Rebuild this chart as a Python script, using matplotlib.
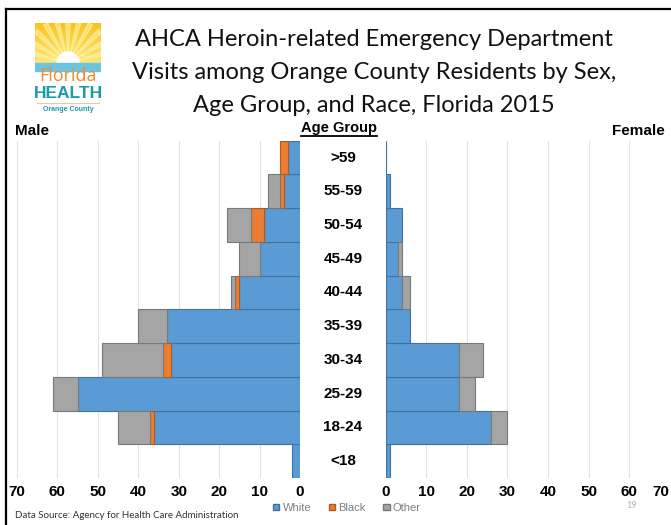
import numpy as np
import matplotlib
matplotlib.use('Agg')
import matplotlib.pyplot as plt
from matplotlib.patches import Rectangle, Wedge, Patch
from matplotlib.lines import Line2D
from matplotlib.transforms import blended_transform_factory

plt.rcParams['font.family'] = ['Liberation Sans', 'DejaVu Sans']

ages = ['<18', '18-24', '25-29', '30-34', '35-39', '40-44',
        '45-49', '50-54', '55-59', '>59']
# counts, bottom to top
male_white = [2, 36, 55, 32, 33, 15, 10, 9, 4, 3]
male_black = [0, 1, 0, 2, 0, 1, 0, 3, 1, 2]
male_other = [0, 8, 6, 15, 7, 1, 5, 6, 3, 0]
female_white = [1, 26, 18, 18, 6, 4, 3, 4, 1, 0]
female_black = [0, 0, 0, 0, 0, 0, 0, 0, 0, 0]
female_other = [0, 4, 4, 6, 0, 2, 1, 0, 0, 0]
xticks = [0, 10, 20, 30, 40, 50, 60, 70]

c_white, c_black, c_other = '#5B9BD5', '#ED7D31', '#A5A5A5'
e_white, e_black, e_other = '#41719C', '#AE5A21', '#787878'

W, H = 671, 525
fig = plt.figure(figsize=(W / 100, H / 100), dpi=100)


def fx(px):
    return px / W


def fy(py):
    return 1 - py / H


ax_top, ax_bot = 140.7, 478
axL = fig.add_axes([fx(17), fy(ax_bot), fx(300 - 17), (ax_bot - ax_top) / H])
axR = fig.add_axes([fx(385.7), fy(ax_bot), fx(669.7 - 385.7), (ax_bot - ax_top) / H])

y = np.arange(len(ages))

for ax, wh, bl, ot in [(axL, male_white, male_black, male_other),
                       (axR, female_white, female_black, female_other)]:
    wh, bl, ot = np.array(wh), np.array(bl), np.array(ot)
    ax.barh(y, wh, height=1.0, color=c_white, edgecolor=e_white, lw=0.8, zorder=3)
    ax.barh(y, bl, left=wh, height=1.0, color=c_black, edgecolor=e_black,
            lw=0.8 * (bl > 0), zorder=3)
    ax.barh(y, ot, left=wh + bl, height=1.0, color=c_other, edgecolor=e_other,
            lw=0.8 * (ot > 0), zorder=3)
    ax.set_ylim(-0.5, len(ages) - 0.5)
    ax.set_xticks(xticks)
    ax.set_xticklabels([str(t) for t in xticks], fontsize=11, fontweight='bold')
    ax.tick_params(axis='x', length=0, pad=5)
    ax.set_yticks([])
    ax.grid(axis='x', color='#E3E3E3', lw=0.8, zorder=0)
    for s in ax.spines.values():
        s.set_visible(False)

axL.set_xlim(70, 0)
axR.set_xlim(0, 70)
# last label on the right sits at the picture's edge
axR.get_xticklabels()[-1].set_horizontalalignment('right')

tr = blended_transform_factory(fig.transFigure, axL.transData)
for yi, lab in zip(y, ages):
    fig.text(fx(343), yi, lab, transform=tr, ha='center', va='center',
             fontsize=11, fontweight='bold')

# titles and headings
title = ['AHCA Heroin-related Emergency Department',
         'Visits among Orange County Residents by Sex,',
         'Age Group, and Race, Florida 2015']
for i, line in enumerate(title):
    fig.text(fx(374), fy(40 + 32.5 * i), line, ha='center', va='center',
             fontsize=17, family=['Lato', 'DejaVu Sans'], color='#111111')

fig.text(fx(15), fy(131), 'Male', ha='left', va='center', fontsize=11,
         fontweight='bold')
fig.text(fx(612), fy(131), 'Female', ha='left', va='center', fontsize=11,
         fontweight='bold')
ag = fig.text(fx(339), fy(128), 'Age Group', ha='center', va='center',
              fontsize=10.5, fontweight='bold')
fig.canvas.draw()
bb = ag.get_window_extent().transformed(fig.transFigure.inverted())
fig.add_artist(Line2D([bb.x0, bb.x1], [bb.y0 - 0.002, bb.y0 - 0.002],
                      transform=fig.transFigure, color='black', lw=1.3))

# legend
handles = [Patch(facecolor=c_white, edgecolor=e_white, label='White'),
           Patch(facecolor=c_black, edgecolor=e_black, label='Black'),
           Patch(facecolor=c_other, edgecolor=e_other, label='Other')]
fig.legend(handles=handles, loc='center', bbox_to_anchor=(fx(347), fy(508)),
           ncol=3, frameon=False, fontsize=8, handlelength=0.55,
           handleheight=0.55, handletextpad=0.3, columnspacing=1.6,
           labelcolor='#7f7f7f')

fig.text(fx(15), fy(515), 'Data Source: Agency for Health Care Administration',
         ha='left', va='center', fontsize=7, family=['Lato', 'DejaVu Sans'],
         color='#333333')
fig.text(fx(632), fy(505), '19', ha='center', va='center', fontsize=6.5,
         color='#b0b0b0', family=['Lato', 'DejaVu Sans'])

# frame
fig.add_artist(Line2D([fx(6), 1], [fy(8.5), fy(8.5)], transform=fig.transFigure,
                      color='black', lw=1.6))
fig.add_artist(Line2D([fx(6), fx(6)], [fy(8.5), 0], transform=fig.transFigure,
                      color='black', lw=1.6))

# logo
lax = fig.add_axes([fx(35), fy(116), fx(101) - fx(35), fy(23) - fy(116)])
lax.set_xlim(0, 66)
lax.set_ylim(0, 93)
lax.axis('off')
grad = np.linspace(0, 1, 50)[:, None]
lax.imshow(np.dstack([np.ones_like(grad) * 0.99,
                      0.76 + 0.14 * grad,
                      0.12 + 0.38 * grad]),
           extent=[0, 66, 53, 93], aspect='auto', zorder=1)
for ang in np.linspace(15, 165, 11):
    lax.add_patch(Wedge((33, 53), 45, ang - 3, ang + 3, color='#fff3a0',
                        alpha=0.6, zorder=2))
lax.add_patch(Wedge((33, 53), 11, 0, 180, color='white', zorder=3))
lax.add_patch(Rectangle((0, 45), 66, 8, color='#6cc4de', zorder=3))
lax.text(33, 40, 'Florida', ha='center', va='center', fontsize=13,
         color='#F08A2B', family=['Open Sans', 'Liberation Sans'],
         zorder=4)
lax.text(33, 23, 'HEALTH', ha='center', va='center', fontsize=12.5,
         fontweight='bold', color='#1B9AAA', zorder=4)
lax.plot([2, 64], [13.5, 13.5], color='#e8c9a0', lw=0.8)
lax.text(33, 7, 'Orange County', ha='center', va='center', fontsize=5,
         fontweight='bold', color='#1B9AAA', zorder=4)

fig.savefig('out.png', dpi=100)
